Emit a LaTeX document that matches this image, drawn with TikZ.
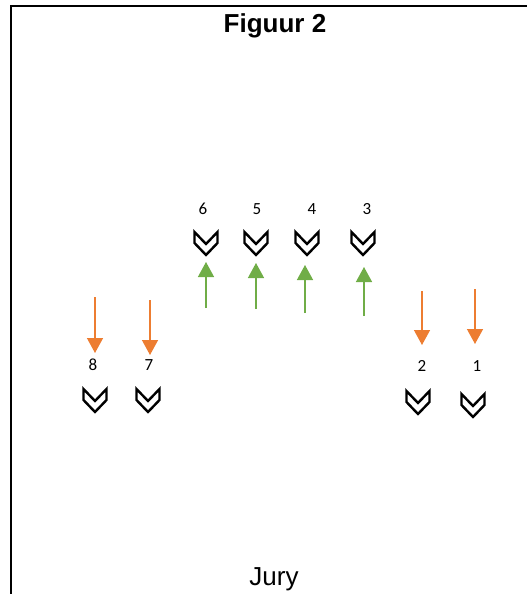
\documentclass[tikz,border=0pt]{standalone}
\usepackage{fontspec}
\setmainfont{Liberation Sans}
\newfontfamily\numfont{Carlito}
\usetikzlibrary{arrows.meta}
\definecolor{upgreen}{HTML}{70AD47}
\definecolor{downorange}{HTML}{ED7D31}

\begin{document}
\begin{tikzpicture}[x=1pt,y=-1pt,
  frameline/.style={black,line width=1.6pt},
  titletext/.style={font=\fontsize{26}{26}\selectfont\bfseries,inner sep=0pt,anchor=base},
  jurytext/.style={font=\fontsize{26}{26}\selectfont,inner sep=0pt,anchor=base},
  numlabel/.style={font=\numfont\fontsize{17}{17}\selectfont,inner sep=0pt,anchor=base},
  chevline/.style={draw=black,fill=white,line width=2.4pt,line join=miter},
  uparrow/.style={draw=upgreen,line width=1.4pt,-{Triangle[width=16pt,length=15pt]}},
  downarrow/.style={draw=downorange,line width=1.4pt,-{Triangle[width=16pt,length=15pt]}},
  chev/.pic={\path[chevline] (-11.5,0) -- (-11.5,11) -- (0,23) -- (11.5,11) -- (11.5,0) -- (0,12) -- cycle;}
]
\useasboundingbox (0,0) rectangle (527,594);

% frame lines
\coordinate (ftl) at (11,6);
\coordinate (ftr) at (527,6);
\coordinate (fbl) at (11,594);
\draw[frameline] (ftr) -- (ftl) -- (fbl);

% captions
\node[titletext] (title) at (275,33) {Figuur 2};
\node[jurytext] (jury) at (274,585) {Jury};

% seat numbers
\node[numlabel] (n6) at (203,214) {6};
\node[numlabel] (n5) at (257,214) {5};
\node[numlabel] (n4) at (312,214) {4};
\node[numlabel] (n3) at (367,214) {3};
\node[numlabel] (n8) at (93,370) {8};
\node[numlabel] (n7) at (149,370) {7};
\node[numlabel] (n2) at (422,371) {2};
\node[numlabel] (n1) at (477,371) {1};

% chevrons
\pic (c6) at (206,232) {chev};
\pic (c5) at (256,232) {chev};
\pic (c4) at (307,232) {chev};
\pic (c3) at (363,232) {chev};
\pic (c8) at (95,389) {chev};
\pic (c7) at (148,389) {chev};
\pic (c2) at (418,391) {chev};
\pic (c1) at (473,394) {chev};

% upward arrows (green)
\coordinate (g6a) at (206,308); \coordinate (g6b) at (206,262);
\coordinate (g5a) at (256,309); \coordinate (g5b) at (256,263);
\coordinate (g4a) at (305,313); \coordinate (g4b) at (305,265);
\coordinate (g3a) at (364,316); \coordinate (g3b) at (364,267);
\draw[uparrow] (g6a) -- (g6b);
\draw[uparrow] (g5a) -- (g5b);
\draw[uparrow] (g4a) -- (g4b);
\draw[uparrow] (g3a) -- (g3b);

% downward arrows (orange)
\coordinate (o8a) at (95,297); \coordinate (o8b) at (95,353);
\coordinate (o7a) at (150,300); \coordinate (o7b) at (150,355);
\coordinate (o2a) at (422,291); \coordinate (o2b) at (422,345);
\coordinate (o1a) at (475,289); \coordinate (o1b) at (475,344);
\draw[downarrow] (o8a) -- (o8b);
\draw[downarrow] (o7a) -- (o7b);
\draw[downarrow] (o2a) -- (o2b);
\draw[downarrow] (o1a) -- (o1b);
\end{tikzpicture}
\end{document}
